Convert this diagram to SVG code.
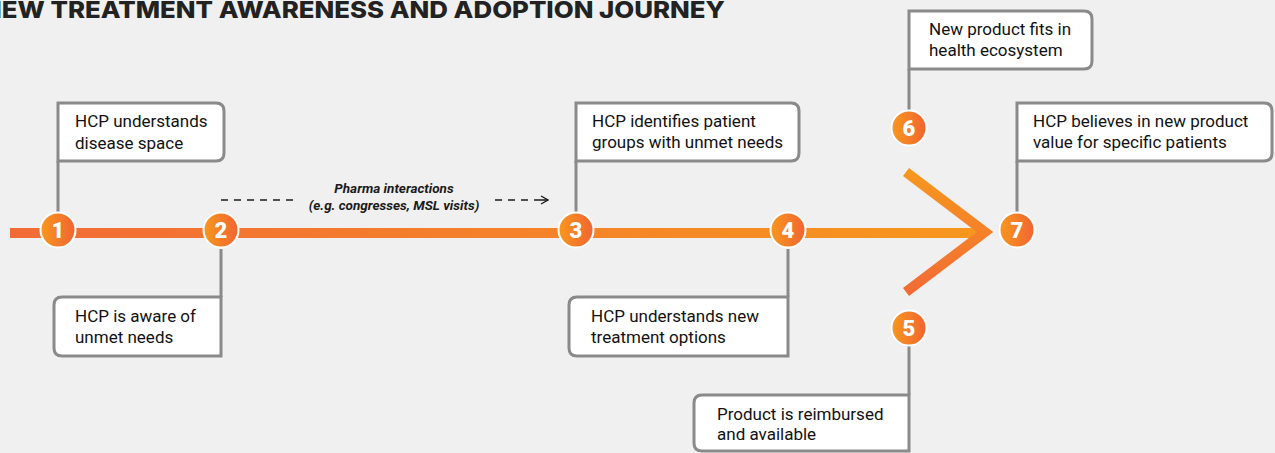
<svg xmlns="http://www.w3.org/2000/svg" width="1275" height="453" viewBox="0 0 1275 453">
  <defs>
    <linearGradient id="lineGrad" gradientUnits="userSpaceOnUse" x1="10" y1="0" x2="980" y2="0">
      <stop offset="0" stop-color="#f26b36"/>
      <stop offset="1" stop-color="#f7971e"/>
    </linearGradient>
    <linearGradient id="chevGrad" gradientUnits="userSpaceOnUse" x1="0" y1="170" x2="0" y2="295">
      <stop offset="0" stop-color="#f7981e"/>
      <stop offset="1" stop-color="#f26a35"/>
    </linearGradient>
    <linearGradient id="circGrad" x1="0" y1="0" x2="1" y2="0">
      <stop offset="0" stop-color="#f8981d"/>
      <stop offset="1" stop-color="#f16433"/>
    </linearGradient>
    <marker id="openArrow" viewBox="0 0 10 10" refX="9" refY="5" markerWidth="10" markerHeight="10" markerUnits="userSpaceOnUse" orient="auto">
      <path d="M2,1 L9,5 L2,9" fill="none" stroke="#1a1a1a" stroke-width="1.3"/>
    </marker>
    <style>
      .box { fill: #ffffff; stroke: #8a8a8a; stroke-width: 3; }
      .conn { stroke: #8a8a8a; stroke-width: 3; fill: none; }
      .lbl { font-family: Roboto, "Liberation Sans", sans-serif; font-size: 17px; font-weight: 400; fill: #111111; }
      .dot { fill: url(#circGrad); stroke: #ffffff; stroke-width: 2; }
      .num { font-family: Roboto, "Liberation Sans", sans-serif; font-weight: 900; font-size: 22px; fill: #ffffff; text-anchor: middle; }
      .pharma { font-family: Roboto, "Liberation Sans", sans-serif; font-weight: bold; font-style: italic; font-size: 13.5px; fill: #1a1a1a; text-anchor: middle; }
      .title { font-family: Inter, "Liberation Sans", sans-serif; font-weight: 800; font-size: 23px; fill: #222222; }
    </style>
  </defs>

  <rect x="0" y="0" width="1275" height="453" fill="#f0f0f0"/>

  <text class="title" x="-18" y="18" textLength="743" lengthAdjust="spacingAndGlyphs">NEW TREATMENT AWARENESS AND ADOPTION JOURNEY</text>

  <!-- main timeline -->
  <g id="timeline">
    <line x1="10" y1="233" x2="979" y2="233" stroke="url(#lineGrad)" stroke-width="10"/>
    <polyline points="906,172 985,232 906,292" fill="none" stroke="url(#chevGrad)" stroke-width="10" stroke-linejoin="miter" stroke-miterlimit="10"/>
  </g>

  <!-- connectors -->
  <g id="connectors">
    <line class="conn" x1="58" y1="161" x2="58" y2="213"/>
    <line class="conn" x1="221" y1="249" x2="221" y2="297"/>
    <line class="conn" x1="576" y1="161" x2="576" y2="213"/>
    <line class="conn" x1="788" y1="249" x2="788" y2="297"/>
    <line class="conn" x1="909" y1="346" x2="909" y2="395"/>
    <line class="conn" x1="909" y1="69" x2="909" y2="110"/>
    <line class="conn" x1="1017" y1="161" x2="1017" y2="212"/>
    <line x1="221" y1="200" x2="297" y2="200" stroke="#1a1a1a" stroke-width="1.3" stroke-dasharray="7 6"/>
    <line x1="495" y1="200" x2="548" y2="200" stroke="#1a1a1a" stroke-width="1.3" stroke-dasharray="7 6 7 6 7 6 20 0" marker-end="url(#openArrow)"/>
  </g>

  <g id="pharma-label">
    <text class="pharma" x="394" y="193">Pharma interactions</text>
    <text class="pharma" x="394" y="210">(e.g. congresses, MSL visits)</text>
  </g>

  <!-- node 1 -->
  <g id="node1">
    <path class="box" d="M58,103 H216 Q224,103 224,111 V153 Q224,161 216,161 H58 Z"/>
    <text class="lbl" x="75" y="127">HCP understands</text>
    <text class="lbl" x="75" y="149">disease space</text>
    <circle class="dot" cx="58" cy="230" r="17.5"/>
    <text class="num" x="58" y="238">1</text>
  </g>

  <!-- node 2 -->
  <g id="node2">
    <path class="box" d="M221,297 H62 Q54,297 54,305 V348 Q54,356 62,356 H221 Z"/>
    <text class="lbl" x="75" y="322">HCP is aware of</text>
    <text class="lbl" x="75" y="343">unmet needs</text>
    <circle class="dot" cx="221" cy="230" r="17.5"/>
    <text class="num" x="221" y="238">2</text>
  </g>

  <!-- node 3 -->
  <g id="node3">
    <path class="box" d="M576,103 H791 Q799,103 799,111 V153 Q799,161 791,161 H576 Z"/>
    <text class="lbl" x="592" y="127">HCP identifies patient</text>
    <text class="lbl" x="592" y="148">groups with unmet needs</text>
    <circle class="dot" cx="576" cy="230" r="17.5"/>
    <text class="num" x="576" y="238">3</text>
  </g>

  <!-- node 4 -->
  <g id="node4">
    <path class="box" d="M788,297 H577 Q569,297 569,305 V348 Q569,356 577,356 H788 Z"/>
    <text class="lbl" x="591" y="322">HCP understands new</text>
    <text class="lbl" x="591" y="343">treatment options</text>
    <circle class="dot" cx="788" cy="230" r="17.5"/>
    <text class="num" x="788" y="238">4</text>
  </g>

  <!-- node 5 -->
  <g id="node5">
    <path class="box" d="M909,395 H702 Q694,395 694,403 V443 Q694,451 702,451 H909 Z"/>
    <text class="lbl" x="717" y="420">Product is reimbursed</text>
    <text class="lbl" x="717" y="440">and available</text>
    <circle class="dot" cx="909" cy="328" r="17.5"/>
    <text class="num" x="909" y="336">5</text>
  </g>

  <!-- node 6 -->
  <g id="node6">
    <path class="box" d="M909,11 H1084 Q1092,11 1092,19 V61 Q1092,69 1084,69 H909 Z"/>
    <text class="lbl" x="929" y="35">New product fits in</text>
    <text class="lbl" x="929" y="56">health ecosystem</text>
    <circle class="dot" cx="909" cy="128" r="17.5"/>
    <text class="num" x="909" y="136">6</text>
  </g>

  <!-- node 7 -->
  <g id="node7">
    <path class="box" d="M1017,103 H1264 Q1272,103 1272,111 V153 Q1272,161 1264,161 H1017 Z"/>
    <text class="lbl" x="1033" y="127">HCP believes in new product</text>
    <text class="lbl" x="1033" y="148">value for specific patients</text>
    <circle class="dot" cx="1017" cy="230" r="17.5"/>
    <text class="num" x="1017" y="238">7</text>
  </g>
</svg>
